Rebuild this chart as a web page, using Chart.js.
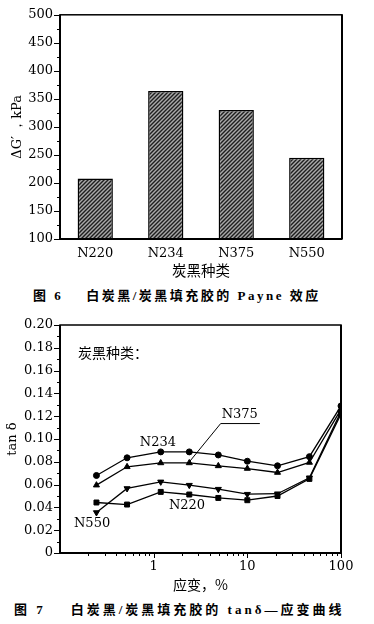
<!DOCTYPE html>
<html>
<head>
<meta charset="utf-8">
<script src="https://cdn.jsdelivr.net/npm/chart.js@4.4.1/dist/chart.umd.min.js"></script>
<style>
body { margin:0; background:#fff; width:374px; height:624px; position:relative; overflow:hidden; }
.box { position:absolute; left:0; width:374px; }
.cap { position:absolute; white-space:pre; font-weight:bold; color:#000;
  font-family:"Liberation Serif","Noto Sans CJK SC",serif; font-size:13px; line-height:16px; }
</style>
</head>
<body>
<div class="box" style="top:0;height:285px"><canvas id="barChart"></canvas></div>
<div class="cap" id="cap6" style="top:288px;left:33px;letter-spacing:2.5px">图 6    白炭黑/炭黑填充胶的 Payne 效应</div>
<div class="box" style="top:305px;height:290px"><canvas id="lineChart"></canvas></div>
<div class="cap" id="cap7" style="top:602px;left:14px;letter-spacing:3px">图 7    白炭黑/炭黑填充胶的 tanδ—应变曲线</div>
<script>
// figure 6 data
var blackTypes = ['N220', 'N234', 'N375', 'N550'];
var payneDelta = [208, 364, 330, 245];

// figure 7 data
var strain = [0.245, 0.52, 1.19, 2.4, 4.9, 10, 21, 46, 100];
var tanN234 = [0.068, 0.0835, 0.0887, 0.0887, 0.086, 0.0805, 0.0765, 0.0845, 0.129];
var tanN375 = [0.0595, 0.0756, 0.079, 0.079, 0.0764, 0.0741, 0.0706, 0.0794, 0.126];
var tanN550 = [0.0355, 0.0566, 0.0624, 0.0595, 0.056, 0.0516, 0.052, 0.066, 0.124];
var tanN220 = [0.0443, 0.0425, 0.0536, 0.0513, 0.0483, 0.0463, 0.050, 0.065, 0.122];
var strainTicks = [1, 10, 100];

Chart.defaults.animation = false;
Chart.defaults.color = '#000';

var numFont = { family: 'DejaVu Serif', size: 13 };
var cjkFont = { family: 'Noto Sans CJK SC', size: 14.5 };

function pts(ys) {
  return strain.map(function (x, i) { return { x: x, y: ys[i] }; });
}

// hatched fill for the bars
function hatch() {
  var c = document.createElement('canvas');
  c.width = 4; c.height = 4;
  var g = c.getContext('2d');
  g.fillStyle = '#a8a8a8';
  g.fillRect(0, 0, 4, 4);
  g.strokeStyle = '#1e1e1e';
  g.lineWidth = 1.4;
  g.beginPath();
  g.moveTo(0, 4); g.lineTo(4, 0);
  g.moveTo(-1, 1); g.lineTo(1, -1);
  g.moveTo(3, 5); g.lineTo(5, 3);
  g.stroke();
  return g.createPattern(c, 'repeat');
}

// box around the plot + major/minor ticks
var frameTicks = {
  id: 'frameTicks',
  afterDatasetsDraw: function (chart, args, o) {
    var ctx = chart.ctx, a = chart.chartArea;
    var sx = chart.scales.x, sy = chart.scales.y;
    ctx.save();
    ctx.strokeStyle = '#000';
    ctx.lineWidth = 1;
    ctx.beginPath();
    (o.yMajor || []).forEach(function (v) {
      var p = Math.round(sy.getPixelForValue(v)) + 0.5;
      ctx.moveTo(a.left - 6, p); ctx.lineTo(a.left, p);
    });
    (o.yMinor || []).forEach(function (v) {
      var p = Math.round(sy.getPixelForValue(v)) + 0.5;
      ctx.moveTo(a.left - 3, p); ctx.lineTo(a.left, p);
    });
    (o.xMajor || []).forEach(function (v) {
      var p = Math.round(sx.getPixelForValue(v)) + 0.5;
      ctx.moveTo(p, a.bottom); ctx.lineTo(p, a.bottom + 5);
    });
    (o.xMinor || []).forEach(function (v) {
      var p = Math.round(sx.getPixelForValue(v)) + 0.5;
      ctx.moveTo(p, a.bottom); ctx.lineTo(p, a.bottom + 3);
    });
    ctx.stroke();
    ctx.lineWidth = 1.5;
    ctx.strokeRect(a.left, a.top, a.right - a.left, a.bottom - a.top);
    ctx.lineWidth = 2;
    ctx.beginPath();
    ctx.moveTo(a.left, a.top); ctx.lineTo(a.left, a.bottom); ctx.lineTo(a.right, a.bottom);
    ctx.moveTo(a.right, a.top); ctx.lineTo(a.right, a.bottom);
    ctx.stroke();
    ctx.restore();
  }
};

// text labels inside figure 7
var notes = [
  { text: '炭黑种类：', x: 0.156, y: 0.1754, align: 'left', cjk: true },
  { text: 'N234', x: 1.11, y: 0.0965 },
  { text: 'N375', x: 8.3, y: 0.121, leaderTo: 3 },
  { text: 'N220', x: 2.27, y: 0.0412 },
  { text: 'N550', x: 0.22, y: 0.0254 }
];

var noteLabels = {
  id: 'noteLabels',
  afterDatasetsDraw: function (chart) {
    var ctx = chart.ctx, sx = chart.scales.x, sy = chart.scales.y;
    ctx.save();
    ctx.fillStyle = '#000';
    ctx.strokeStyle = '#000';
    ctx.textBaseline = 'middle';
    notes.forEach(function (n) {
      ctx.font = n.cjk ? '14px "Noto Sans CJK SC"' : '13px "DejaVu Serif"';
      ctx.textAlign = n.align || 'center';
      var px = sx.getPixelForValue(n.x), py = sy.getPixelForValue(n.y);
      ctx.fillText(n.text, px, py);
      if (n.leaderTo !== undefined) {
        var w = ctx.measureText(n.text).width;
        var l = px - w / 2 - 1, r = px + w / 2 + 2, u = py + 8.5;
        ctx.lineWidth = 1;
        ctx.beginPath();
        ctx.moveTo(r, u); ctx.lineTo(l, u);
        ctx.lineTo(sx.getPixelForValue(strain[n.leaderTo]), sy.getPixelForValue(tanN375[n.leaderTo]) - 1);
        ctx.stroke();
      }
    });
    ctx.restore();
  }
};

// FIGURE 6 - bars
var yMinor6 = [];
for (var v = 125; v < 500; v += 50) yMinor6.push(v);

new Chart(document.getElementById('barChart'), {
  type: 'bar',
  data: {
    labels: blackTypes,
    datasets: [{
      data: payneDelta,
      backgroundColor: hatch(),
      borderColor: '#000',
      borderWidth: 1.5,
      barPercentage: 0.5,
      categoryPercentage: 1
    }]
  },
  options: {
    responsive: true,
    maintainAspectRatio: false,
    layout: { padding: { top: 10, right: 32, left: 0, bottom: 0 } },
    plugins: {
      legend: { display: false },
      tooltip: { enabled: false },
      frameTicks: { yMajor: [100, 150, 200, 250, 300, 350, 400, 450, 500], yMinor: yMinor6 }
    },
    scales: {
      x: {
        grid: { display: false, drawTicks: false },
        border: { display: false },
        ticks: { font: numFont, padding: 7 },
        title: { display: true, text: '炭黑种类', font: cjkFont, padding: { top: 0, bottom: 6 } },
        afterFit: function (s) { s.height = 46; }
      },
      y: {
        min: 100, max: 500,
        grid: { display: false, drawTicks: false },
        border: { display: false },
        ticks: { stepSize: 50, font: numFont, padding: 7 },
        title: { display: true, text: 'ΔG′ ，kPa', font: numFont, padding: { top: 10, bottom: 0 } },
        afterFit: function (s) { s.width = 60; }
      }
    }
  },
  plugins: [frameTicks]
});

// FIGURE 7 - tan delta vs strain
var yMinor7 = [], xMinor7 = [];
for (var k = 1; k < 20; k += 2) yMinor7.push(k / 100);
[0.1, 1, 10].forEach(function (d) {
  for (var m = 2; m <= 9; m++) xMinor7.push(m * d);
});

function series(name, ys, style, rot, r) {
  return {
    label: name,
    data: pts(ys),
    borderColor: '#000',
    backgroundColor: '#000',
    borderWidth: 1.3,
    pointStyle: style,
    rotation: rot,
    pointRadius: r,
    pointBorderWidth: 1,
    tension: 0
  };
}

new Chart(document.getElementById('lineChart'), {
  type: 'line',
  data: {
    datasets: [
      series('N234', tanN234, 'circle', 0, 3),
      series('N375', tanN375, 'triangle', 0, 3.5),
      series('N550', tanN550, 'triangle', 180, 3.5),
      series('N220', tanN220, 'rect', 0, 3.5)
    ]
  },
  options: {
    responsive: true,
    maintainAspectRatio: false,
    layout: { padding: { top: 20, right: 33, left: 0, bottom: 0 } },
    plugins: {
      legend: { display: false },
      tooltip: { enabled: false },
      frameTicks: {
        yMajor: [0, 0.02, 0.04, 0.06, 0.08, 0.1, 0.12, 0.14, 0.16, 0.18, 0.2],
        yMinor: yMinor7, xMajor: strainTicks, xMinor: xMinor7
      }
    },
    scales: {
      x: {
        type: 'logarithmic',
        min: 0.1, max: 100,
        grid: { display: false, drawTicks: false },
        border: { display: false },
        afterBuildTicks: function (s) {
          s.ticks = strainTicks.map(function (t) { return { value: t }; });
        },
        ticks: { font: numFont, padding: 6, autoSkip: false, maxRotation: 0,
          callback: function (t) { return String(t); } },
        title: { display: true, text: '应变，%', font: { family: 'Noto Sans CJK SC', size: 14 }, padding: { top: 0, bottom: 2 } },
        afterFit: function (s) { s.height = 42; }
      },
      y: {
        min: 0, max: 0.2,
        grid: { display: false, drawTicks: false },
        border: { display: false },
        ticks: { stepSize: 0.02, font: numFont, padding: 7,
          callback: function (t) { return t === 0 ? '0' : t.toFixed(2); } },
        title: { display: true, text: 'tan δ', font: numFont, padding: { top: 5, bottom: 0 } },
        afterFit: function (s) { s.width = 60; }
      }
    }
  },
  plugins: [frameTicks, noteLabels]
});
</script>
</body>
</html>
